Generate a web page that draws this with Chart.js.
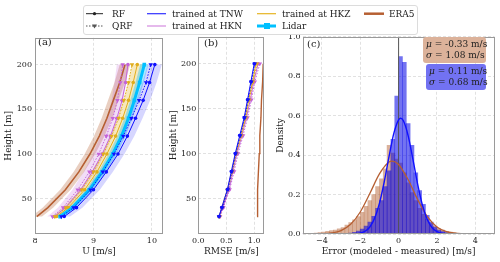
<!DOCTYPE html>
<html><head><meta charset="utf-8">
<script src="https://cdn.jsdelivr.net/npm/chart.js@4/dist/chart.umd.min.js"></script>
<style>
html,body{margin:0;padding:0;background:#fff;}
body{width:500px;height:262px;overflow:hidden;position:relative;font-family:"DejaVu Serif",serif;color:#222;}
canvas{position:absolute;}
.lbl{position:absolute;font-size:10px;line-height:12px;white-space:nowrap;}
#legend{position:absolute;left:83px;top:5px;width:333px;height:28px;border:1px solid #dcdcdc;border-radius:3px;background:#fff;z-index:5;}
#legend span{position:absolute;font-size:9px;line-height:12px;white-space:nowrap;}
.box{position:absolute;border-radius:3px;font-size:9px;line-height:10.5px;text-align:right;padding:2px 3px 2px 3px;box-sizing:border-box;white-space:nowrap;color:#222;}
</style></head>
<body>
<canvas id="ca" width="170" height="232" style="left:0;top:30px;width:170px;height:232px"></canvas>
<canvas id="cb" width="104" height="232" style="left:166px;top:30px;width:104px;height:232px"></canvas>
<canvas id="cc" width="230" height="232" style="left:270px;top:30px;width:230px;height:232px"></canvas>

<div class="lbl" style="left:38px;top:36px">(a)</div>
<div class="lbl" style="left:204px;top:37px">(b)</div>
<div class="lbl" style="left:307px;top:38px">(c)</div>

<div class="box" style="left:423px;top:37px;width:63px;height:26px;background:#dcb29a;"><i>μ</i> = -0.33 m/s<br><i>σ</i> = 1.08 m/s</div>
<div class="box" style="left:426px;top:64px;width:60px;height:26px;background:#7272f2;"><i>μ</i> = 0.11 m/s<br><i>σ</i> = 0.68 m/s</div>

<div id="legend">
<svg width="333" height="28" style="position:absolute;left:0;top:0">
  <line x1="2" y1="7.7" x2="19" y2="7.7" stroke="#222" stroke-width="1"/>
  <circle cx="10.5" cy="7.7" r="1.6" fill="#222"/>
  <line x1="2" y1="20" x2="19" y2="20" stroke="#555" stroke-width="1" stroke-dasharray="1.5,1.5"/>
  <path d="M8,18.5 L13,18.5 L10.5,22.5 Z" fill="#555"/>
  <line x1="63" y1="7.7" x2="82" y2="7.7" stroke="#3030ff" stroke-width="1.2"/>
  <line x1="63" y1="20" x2="82" y2="20" stroke="#d48be0" stroke-width="1.2"/>
  <line x1="173" y1="7.7" x2="192" y2="7.7" stroke="#e6b422" stroke-width="1.2"/>
  <line x1="173" y1="20" x2="192" y2="20" stroke="#00c0ff" stroke-width="3"/>
  <rect x="180" y="17" width="6" height="6" fill="#00c0ff"/>
  <line x1="280" y1="7.7" x2="300" y2="7.7" stroke="#b65f32" stroke-width="2.5"/>
</svg>
<span style="left:28px;top:1.7px">RF</span>
<span style="left:28px;top:14px">QRF</span>
<span style="left:88px;top:1.7px">trained at TNW</span>
<span style="left:88px;top:14px">trained at HKN</span>
<span style="left:198px;top:1.7px">trained at HKZ</span>
<span style="left:198px;top:14px">Lidar</span>
<span style="left:305px;top:1.7px">ERA5</span>
</div>

<script>
// ---------------- DATA ----------------
const heights = [30, 40, 60, 80, 100, 120, 140, 160, 180, 200];

// tick values
const ticksU = [8, 9, 10];
const ticksHeight = [50, 100, 150, 200];
const ticksRMSE = [0, 0.5, 1.0];
const ticksErr = [-4, -2, 0, 2, 4];
const ticksDensity = [0, 0.2, 0.4, 0.6, 0.8, 1.0];

// (a) wind speed profiles U [m/s]
const uLidar  = [8.43, 8.64, 8.93, 9.15, 9.33, 9.48, 9.60, 9.70, 9.79, 9.87];
const uRF_TNW  = [8.50, 8.71, 9.00, 9.22, 9.42, 9.58, 9.72, 9.85, 9.96, 10.05];
const uQRF_TNW = [8.45, 8.66, 8.95, 9.16, 9.35, 9.51, 9.65, 9.78, 9.90, 9.98];
const uRF_HKZ  = [8.37, 8.57, 8.85, 9.06, 9.23, 9.38, 9.50, 9.60, 9.68, 9.75];
const uQRF_HKZ = [8.34, 8.53, 8.80, 9.00, 9.17, 9.31, 9.43, 9.52, 9.60, 9.66];
const uRF_HKN  = [8.33, 8.52, 8.78, 8.98, 9.15, 9.29, 9.40, 9.49, 9.55, 9.59];
const uQRF_HKN = [8.30, 8.48, 8.73, 8.93, 9.09, 9.22, 9.33, 9.41, 9.46, 9.50];
const uERA5    = [8.03, 8.22, 8.52, 8.75, 8.94, 9.10, 9.23, 9.34, 9.45, 9.54];
// (a) spread of shaded bands [m/s]
const spreadTNW   = [0.10, 0.10, 0.11, 0.11, 0.11, 0.12, 0.12, 0.12, 0.12, 0.12];
const spreadHKZ   = [0.08, 0.08, 0.08, 0.09, 0.09, 0.09, 0.09, 0.09, 0.09, 0.09];
const spreadHKN   = [0.09, 0.09, 0.09, 0.10, 0.10, 0.10, 0.10, 0.10, 0.10, 0.10];
const spreadLidar = [0.06, 0.06, 0.06, 0.07, 0.07, 0.07, 0.07, 0.07, 0.07, 0.07];
const spreadERA5  = [0.09, 0.09, 0.09, 0.09, 0.09, 0.09, 0.09, 0.09, 0.09, 0.09];

// (b) RMSE [m/s]
const rRF_TNW  = [0.37, 0.42, 0.52, 0.59, 0.66, 0.74, 0.82, 0.88, 0.94, 1.00];
const rQRF_TNW = [0.37, 0.43, 0.53, 0.60, 0.67, 0.75, 0.83, 0.89, 0.95, 1.01];
const rRF_HKZ  = [0.37, 0.42, 0.52, 0.60, 0.67, 0.76, 0.84, 0.90, 0.97, 1.03];
const rQRF_HKZ = [0.38, 0.43, 0.53, 0.61, 0.68, 0.77, 0.85, 0.91, 0.98, 1.05];
const rRF_HKN  = [0.38, 0.44, 0.55, 0.62, 0.69, 0.78, 0.86, 0.93, 0.99, 1.07];
const rQRF_HKN = [0.39, 0.45, 0.56, 0.64, 0.71, 0.80, 0.88, 0.95, 1.01, 1.10];
const rERA5    = [1.05, 1.055, 1.065, 1.075, 1.09, 1.10, 1.12, 1.13, 1.15, 1.16];

// (c) histograms: bin centres and densities
const binsERA5 = [-4.5,-4.3,-4.1,-3.9,-3.7,-3.5,-3.3,-3.1,-2.9,-2.7,-2.5,-2.3,-2.1,-1.9,-1.7,-1.5,-1.3,-1.1,-0.9,-0.7,-0.5,-0.3,-0.1,0.1,0.3,0.5,0.7,0.9,1.1,1.3,1.5,1.7,1.9,2.1,2.3,2.5,2.7,2.9,3.1,3.3];
const densERA5 = [0.004,0.005,0.007,0.010,0.013,0.017,0.020,0.026,0.033,0.045,0.058,0.072,0.088,0.110,0.140,0.170,0.200,0.240,0.280,0.330,0.450,0.410,0.380,0.360,0.310,0.260,0.210,0.170,0.130,0.100,0.075,0.055,0.040,0.028,0.020,0.014,0.010,0.007,0.005,0.003];
const binsModel = [-2.7,-2.5,-2.3,-2.1,-1.9,-1.7,-1.5,-1.3,-1.1,-0.9,-0.7,-0.5,-0.3,-0.1,0.1,0.3,0.5,0.7,0.9,1.1,1.3,1.5,1.7,1.9,2.1,2.3,2.5,2.7,4.5];
const densModel = [0.003,0.005,0.008,0.015,0.025,0.040,0.060,0.090,0.130,0.170,0.240,0.320,0.480,0.700,0.900,0.870,0.560,0.450,0.310,0.220,0.150,0.095,0.060,0.035,0.020,0.012,0.007,0.004,0.003];
// (c) fitted normal curves
const fitX_ERA5 = [-5,-4.5,-4,-3.5,-3,-2.5,-2,-1.5,-1,-0.5,-0.33,0,0.5,1,1.5,2,2.5,3,3.5,4,4.5,5];
const fitY_ERA5 = [0,0.0002,0.0011,0.005,0.0174,0.0491,0.1117,0.2054,0.3048,0.3649,0.3694,0.3526,0.275,0.1731,0.0879,0.036,0.0119,0.0032,0.0007,0.0001,0,0];
const fitX_Model = [-5,-2.75,-2.5,-2.25,-2,-1.75,-1.5,-1.25,-1,-0.75,-0.5,-0.25,0,0.11,0.25,0.5,0.75,1,1.25,1.5,1.75,2,2.25,2.5,2.75,5];
const fitY_Model = [0,0.0001,0.0004,0.0014,0.0048,0.0139,0.0356,0.0794,0.155,0.2637,0.3923,0.51,0.579,0.5867,0.574,0.4977,0.3768,0.2491,0.1439,0.0726,0.032,0.0123,0.0041,0.0012,0.0003,0];

// ---------------- STYLE ----------------
const C = {tnw:'#1010ff', hkn:'#c463d9', hkz:'#e0ad1c', lidar:'#00c0ff', era5:'#b65f32'};
Chart.defaults.font.family = '"DejaVu Serif", serif';
Chart.defaults.color = '#222';
Chart.defaults.animation = false;
Chart.defaults.plugins.legend.display = false;
Chart.defaults.plugins.tooltip.enabled = false;

const framePlugin = {id:'frame', afterDatasetsDraw(chart){
  const {ctx, chartArea:a} = chart; ctx.save(); ctx.strokeStyle='#9a9a9a'; ctx.lineWidth=1;
  ctx.strokeRect(Math.round(a.left)+0.5, Math.round(a.top)+0.5, Math.round(a.right-a.left)-1, Math.round(a.bottom-a.top)-1);
  ctx.restore();}};

const gridCfg = {color:'rgba(0,0,0,0.15)', drawTicks:false, lineWidth:0.8};
function xAxis(min,max,tickVals,title,fmt){
  return {type:'linear', position:'bottom', min, max, offset:false, grid:{...gridCfg, offset:false}, border:{display:false, dash:[3,2]},
    afterBuildTicks(s){ s.ticks = tickVals.map(v=>({value:v})); },
    ticks:{padding:2, font:{size:8}, color:'#222', maxRotation:0, autoSkip:false, callback:fmt},
    title:{display:true, text:title, font:{size:9}, color:'#222', padding:{top:0,bottom:4.5}},
    afterFit(s){ s.height = 28; }};
}
function yAxis(min,max,tickVals,title,fmt,w,tickPad,titlePad){
  return {type:'linear', position:'left', min, max, grid:gridCfg, border:{display:false, dash:[3,2]},
    afterBuildTicks(s){ s.ticks = tickVals.map(v=>({value:v})); },
    ticks:{padding:tickPad, font:{size:8}, color:'#222', autoSkip:false, callback:fmt},
    title:{display:true, text:title, font:{size:9}, color:'#222', padding:{top:titlePad,bottom:0}},
    afterFit(s){ s.width = w; }};
}
const pts = (xs) => heights.map((h,i)=>({x:xs[i], y:h}));
function band(mean, spread, color){
  const lower = heights.map((h,i)=>({x:mean[i]-spread[i], y:h}));
  const upper = heights.map((h,i)=>({x:mean[i]+spread[i], y:h})).reverse();
  return {data: lower.concat(upper), showLine:true, fill:'shape', backgroundColor:color, borderColor:'transparent', pointRadius:0, borderWidth:0};
}
function rf(xs, color){ return {data:pts(xs), showLine:true, borderColor:color, backgroundColor:color, borderWidth:1, pointStyle:'circle', pointRadius:1.8, pointBorderWidth:0}; }
function qrf(xs, color){ return {data:pts(xs), showLine:true, borderColor:color, backgroundColor:color, borderWidth:1, borderDash:[1.5,1.5], pointStyle:'triangle', pointRotation:180, pointRadius:2.6, pointBorderWidth:0}; }
function withOrder(list){ return list.map((d,i)=>({...d, order:list.length-i})); }
const heightFmt = v => String(v);

// ---------------- (a) ----------------
new Chart(document.getElementById('ca'), {
  type:'scatter',
  data:{datasets: withOrder([
    band(uERA5, spreadERA5, 'rgba(182,95,50,0.30)'),
    band(uQRF_HKN, spreadHKN, 'rgba(196,99,217,0.22)'),
    band(uRF_HKZ, spreadHKZ, 'rgba(230,180,34,0.30)'),
    band(uLidar, spreadLidar, 'rgba(0,191,255,0.35)'),
    band(uRF_TNW, spreadTNW, 'rgba(30,30,255,0.18)'),
    {data:pts(uERA5), showLine:true, borderColor:C.era5, borderWidth:1.6, pointRadius:0},
    qrf(uQRF_HKN, C.hkn), rf(uRF_HKN, C.hkn),
    qrf(uQRF_HKZ, C.hkz), rf(uRF_HKZ, C.hkz),
    {data:pts(uLidar), showLine:true, borderColor:C.lidar, backgroundColor:C.lidar, borderWidth:3, pointStyle:'rect', pointRadius:2.6, pointBorderWidth:0},
    qrf(uQRF_TNW, C.tnw), rf(uRF_TNW, C.tnw)
  ])},
  options:{responsive:false, layout:{padding:{left:0,right:7,top:5,bottom:0}},
    scales:{ x: xAxis(8, 10.19, ticksU, 'U [m/s]', v=>String(v)),
             y: yAxis(10.5, 230, ticksHeight, 'Height [m]', heightFmt, 35, 3, 3.5) }},
  plugins:[framePlugin]
});

// ---------------- (b) ----------------
new Chart(document.getElementById('cb'), {
  type:'scatter',
  data:{datasets: withOrder([
    {data:pts(rERA5), showLine:true, borderColor:C.era5, borderWidth:1.4, pointRadius:0},
    qrf(rQRF_HKN, C.hkn), rf(rRF_HKN, C.hkn),
    qrf(rQRF_HKZ, C.hkz), rf(rRF_HKZ, C.hkz),
    qrf(rQRF_TNW, C.tnw), rf(rRF_TNW, C.tnw)
  ])},
  options:{responsive:false, layout:{padding:{left:0,right:5.7,top:5,bottom:0}},
    scales:{ x: xAxis(0, 1.18, ticksRMSE, 'RMSE [m/s]', v=>Number(v).toFixed(1)),
             y: yAxis(10.5, 230, ticksHeight, 'Height [m]', heightFmt, 32.3, 2, 2.6) }},
  plugins:[framePlugin]
});

// ---------------- (c) ----------------
const minusFmt = v => (v < 0 ? '\u2212' + Math.abs(v) : String(v));
new Chart(document.getElementById('cc'), {
  type:'bar',
  data:{datasets: withOrder([
    {type:'bar', data:binsERA5.map((c,i)=>({x:c, y:densERA5[i]})), backgroundColor:'rgba(182,100,55,0.5)', borderWidth:0, grouped:false, barPercentage:1, categoryPercentage:1},
    {type:'bar', data:binsModel.map((c,i)=>({x:c, y:densModel[i]})), backgroundColor:'rgba(0,0,230,0.55)', borderWidth:0, grouped:false, barPercentage:1, categoryPercentage:1},
    {type:'line', data:[{x:0,y:0},{x:0,y:1}], borderColor:'#555', borderWidth:1, pointRadius:0},
    {type:'line', data:fitX_ERA5.map((x,i)=>({x, y:fitY_ERA5[i]})), borderColor:C.era5, borderWidth:1.3, pointRadius:0, cubicInterpolationMode:'monotone'},
    {type:'line', data:fitX_Model.map((x,i)=>({x, y:fitY_Model[i]})), borderColor:'#1010ff', borderWidth:1.4, pointRadius:0, cubicInterpolationMode:'monotone'}
  ])},
  options:{responsive:false, layout:{padding:{left:0,right:5.5,top:5,bottom:0}},
    scales:{ x: xAxis(-5, 5, ticksErr, 'Error (modeled - measured) [m/s]', minusFmt),
             y: yAxis(0, 1, ticksDensity, 'Density', v=>Number(v).toFixed(1), 32.7, 2, 4.9) }},
  plugins:[framePlugin]
});
</script>
</body></html>
